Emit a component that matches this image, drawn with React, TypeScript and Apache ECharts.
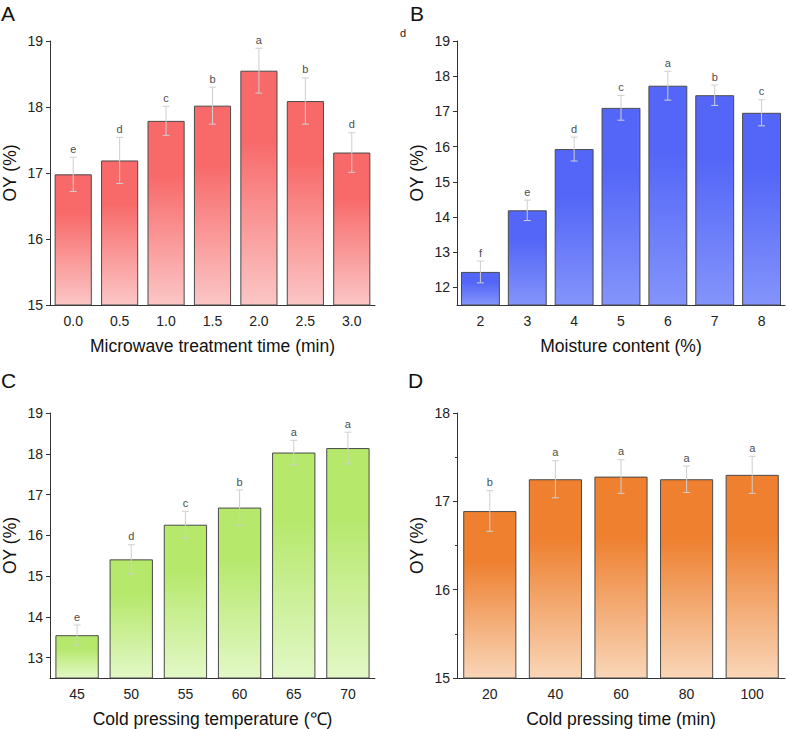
import React, { useEffect, useRef } from "react";
import * as echarts from "echarts";

const catA = ["0.0", "0.5", "1.0", "1.5", "2.0", "2.5", "3.0"];
const valA = [16.98, 17.19, 17.79, 18.02, 18.55, 18.09, 17.31];
const errA = [0.26, 0.35, 0.22, 0.28, 0.34, 0.35, 0.3];
const sigA = ["e", "d", "c", "b", "a", "b", "d"];
const ticksA = [15, 16, 17, 18, 19];

const catB = ["2", "3", "4", "5", "6", "7", "8"];
const valB = [12.44, 14.19, 15.93, 17.1, 17.73, 17.46, 16.96];
const errB = [0.31, 0.29, 0.34, 0.35, 0.41, 0.29, 0.37];
const sigB = ["f", "e", "d", "c", "a", "b", "c"];
const ticksB = [12, 13, 14, 15, 16, 17, 18, 19];

const catC = ["45", "50", "55", "60", "65", "70"];
const valC = [13.55, 15.41, 16.26, 16.68, 18.03, 18.14];
const errC = [0.25, 0.36, 0.33, 0.43, 0.3, 0.39];
const sigC = ["e", "d", "c", "b", "a", "a"];
const ticksC = [13, 14, 15, 16, 17, 18, 19];

const catD = ["20", "40", "60", "80", "100"];
const valD = [16.89, 17.25, 17.28, 17.25, 17.3];
const errD = [0.23, 0.21, 0.19, 0.15, 0.21];
const sigD = ["b", "a", "a", "a", "a"];
const ticksD = [15, 16, 17, 18];

const FONT = "Liberation Sans, Arial, sans-serif";

type Panel = {
  cats: string[];
  vals: number[];
  errs: number[];
  sigs: string[];
  ticks: number[];
  min: number;
  max: number;
  xName: string;
  grid: { left: number; top: number; width: number; height: number };
  top: string;
  bottom: string;
  gap: string;
  minor: boolean;
};

const panels: Panel[] = [
  {
    cats: catA, vals: valA, errs: errA, sigs: sigA, ticks: ticksA, min: 15, max: 19,
    xName: "Microwave treatment time (min)",
    grid: { left: 44, top: 41, width: 331, height: 264 },
    top: "#f86a6a", bottom: "#fcc6c6", gap: "20%", minor: false,
  },
  {
    cats: catB, vals: valB, errs: errB, sigs: sigB, ticks: ticksB, min: 11.5, max: 19,
    xName: "Moisture content (%)",
    grid: { left: 457, top: 41, width: 328, height: 264 },
    top: "#5366f7", bottom: "#8494fb", gap: "17%", minor: false,
  },
  {
    cats: catC, vals: valC, errs: errC, sigs: sigC, ticks: ticksC, min: 12.5, max: 19,
    xName: "Cold pressing temperature (℃)",
    grid: { left: 45, top: 413, width: 330, height: 265 },
    top: "#b6e86c", bottom: "#e2f8c6", gap: "20%", minor: false,
  },
  {
    cats: catD, vals: valD, errs: errD, sigs: sigD, ticks: ticksD, min: 15, max: 18,
    xName: "Cold pressing time (min)",
    grid: { left: 457, top: 413, width: 328, height: 265 },
    top: "#ee8030", bottom: "#f9d6b8", gap: "19%", minor: true,
  },
];

export default function App() {
  const ref = useRef<HTMLDivElement>(null);
  useEffect(() => {
    if (!ref.current) return;
    const chart = echarts.init(ref.current, undefined, { renderer: "svg" });
    const grids: any[] = [];
    const xAxes: any[] = [];
    const yAxes: any[] = [];
    const series: any[] = [];
    panels.forEach((p, i) => {
      grids.push({ ...p.grid, containLabel: false });
      xAxes.push({
        type: "category",
        gridIndex: i,
        data: p.cats,
        boundaryGap: true,
        name: p.xName,
        nameLocation: "middle",
        nameGap: 32,
        nameTextStyle: { fontSize: 17.5, color: "#111", fontFamily: FONT },
        axisLine: { lineStyle: { color: "#333", width: 1 } },
        axisTick: { alignWithLabel: true, length: 4, lineStyle: { color: "#333" } },
        axisLabel: { fontSize: 14, color: "#222", margin: 9, fontFamily: FONT },
        splitLine: { show: false },
      });
      yAxes.push({
        type: "value",
        gridIndex: i,
        min: p.min,
        max: p.max,
        ...(p.minor ? { interval: 1 } : {}),
        name: "OY (%)",
        nameLocation: "middle",
        nameGap: 31,
        nameTextStyle: { fontSize: 17.5, color: "#111", fontFamily: FONT },
        axisLine: { show: true, lineStyle: { color: "#333", width: 1 } },
        axisTick: { show: true, length: 4, customValues: p.ticks, lineStyle: { color: "#333" } },
        minorTick: { show: p.minor, splitNumber: 2, length: 2, lineStyle: { color: "#333" } },
        axisLabel: { fontSize: 14, color: "#222", margin: 7, customValues: p.ticks, fontFamily: FONT },
        splitLine: { show: false },
      });
      series.push({
        type: "bar",
        xAxisIndex: i,
        yAxisIndex: i,
        data: p.vals,
        barCategoryGap: p.gap,
        itemStyle: {
          color: new echarts.graphic.LinearGradient(0, 0, 0, 1, [
            { offset: 0, color: p.top },
            { offset: 0.3, color: p.top },
            { offset: 1, color: p.bottom },
          ]),
          borderColor: "#4a4a4a",
          borderWidth: 1,
        },
      });
      series.push({
        type: "custom",
        xAxisIndex: i,
        yAxisIndex: i,
        clip: false,
        z: 5,
        data: p.vals.map((v, k) => [k, v, p.errs[k]]),
        renderItem: (params: any, api: any) => {
          const x = api.value(0);
          const v = api.value(1);
          const e = api.value(2);
          const s = p.sigs[params.dataIndex];
          const hi = api.coord([x, v + e]);
          const lo = api.coord([x, v - e]);
          const cw = 3.5;
          const st = { stroke: "#cfcfcf", lineWidth: 1 };
          return {
            type: "group",
            children: [
              { type: "line", shape: { x1: hi[0], y1: hi[1], x2: lo[0], y2: lo[1] }, style: st },
              { type: "line", shape: { x1: hi[0] - cw, y1: hi[1], x2: hi[0] + cw, y2: hi[1] }, style: st },
              { type: "line", shape: { x1: lo[0] - cw, y1: lo[1], x2: lo[0] + cw, y2: lo[1] }, style: st },
              {
                type: "text",
                x: hi[0],
                y: hi[1] - 3,
                style: {
                  text: s,
                  fill: "#4d4d4d",
                  fontSize: 11,
                  fontFamily: FONT,
                  align: "center",
                  verticalAlign: "bottom",
                },
              },
            ],
          };
        },
      });
    });
    const letter = (t: string, x: number, y: number) => ({
      type: "text",
      left: x,
      top: y,
      style: { text: t, fontSize: 21, fill: "#111", fontFamily: FONT },
    });
    chart.setOption({
      animation: false,
      backgroundColor: "#fff",
      grid: grids,
      xAxis: xAxes,
      yAxis: yAxes,
      series,
      graphic: [
        letter("A", 1, 3),
        letter("B", 410, 3),
        letter("C", 1, 370),
        letter("D", 408, 370),
        {
          type: "text",
          left: 400,
          top: 27,
          style: { text: "d", fontSize: 11, fill: "#222", fontFamily: FONT },
        },
      ],
    });
    return () => chart.dispose();
  }, []);
  return (
    <div
      ref={ref}
      style={{ position: "fixed", left: 0, top: 0, width: 788, height: 729, background: "#fff" }}
    />
  );
}
